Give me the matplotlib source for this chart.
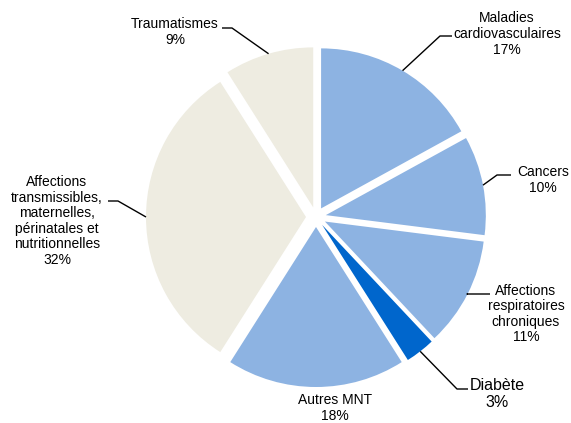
import numpy as np
import matplotlib
matplotlib.use('Agg')
import matplotlib.pyplot as plt

plt.rcParams['font.family'] = ['Liberation Sans', 'DejaVu Sans']

# data
causes = ['Maladies\ncardiovasculaires', 'Cancers', 'Affections\nrespiratoires\nchroniques',
          'Diabète', 'Autres MNT',
          'Affections\ntransmissibles,\nmaternelles,\npérinatales et\nnutritionnelles',
          'Traumatismes']
parts = [17, 10, 11, 3, 18, 32, 9]
couleurs = ['#8DB3E2', '#8DB3E2', '#8DB3E2', '#0066CC', '#8DB3E2', '#EEECE1', '#EEECE1']

W, H = 571, 423
fig = plt.figure(figsize=(W/100, H/100), dpi=100)
ax = fig.add_axes([0, 0, 1, 1])

# pixel coordinates, y going down -> counterclock in data = clockwise on screen
cx, cy, R, e = 316, 217, 160, 10
wedges, _ = ax.pie(parts, colors=couleurs, startangle=-90, counterclock=True,
                   radius=R, center=(cx, cy), explode=[e]*len(parts),
                   wedgeprops=dict(linewidth=0), frame=True)
ax.set_xlim(0, W)
ax.set_ylim(H, 0)
ax.set_aspect('equal')
ax.axis('off')

# label placement: (text x, text y, elbow x, text-side x, fontsize)
place = [
    (507, 34, 440, 452, 10),
    (543, 180, 497, 511, 10),
    (526, 314, 467, 490, 10),
    (497, 394, 457, 468, 11.5),
    (335, 408, None, None, 10),
    (57, 221, 118, 108, 10),
    (175, 32, 232, 222, 10),
]
y_leader = [36, 175, 294, 389, None, 201, 28]

for w, nom, p, (tx, ty, ex, sx, fs), yl in zip(wedges, causes, parts, place, y_leader):
    ax.text(tx, ty, f'{nom}\n{p}%', ha='center', va='center', fontsize=fs,
            linespacing=1.15, color='black')
    if ex is None:
        continue
    a = np.deg2rad((w.theta1 + w.theta2) / 2)
    px = w.center[0] + w.r * np.cos(a)
    py = w.center[1] + w.r * np.sin(a)
    ax.plot([px, ex, sx], [py, yl, yl], color='black', lw=1, solid_capstyle='butt')

fig.savefig('out.png', dpi=100, facecolor='white')
